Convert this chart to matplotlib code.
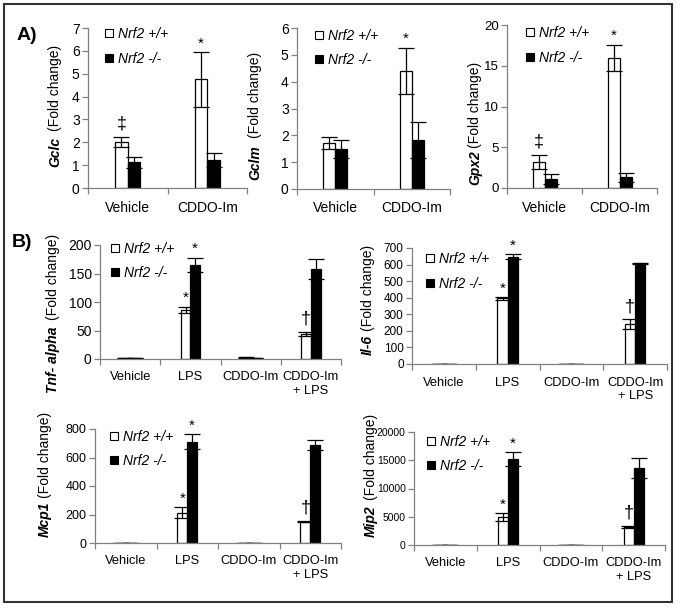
import numpy as np
import matplotlib
matplotlib.use('Agg')
import matplotlib.pyplot as plt
from matplotlib.lines import Line2D
from matplotlib.patches import Rectangle

plt.rcParams['font.family'] = ['Liberation Sans', 'DejaVu Sans']
plt.rcParams['font.size'] = 10

W, H = 680, 612

# categories
groups_a = ['Vehicle', 'CDDO-Im']
groups_b = ['Vehicle', 'LPS', 'CDDO-Im', 'CDDO-Im\n+ LPS']

# panel A values (fold change, mean and error)
gclc_wt = [2.03, 4.75]
gclc_wt_err = [0.22, 1.2]
gclc_ko = [1.12, 1.23]
gclc_ko_err = [0.23, 0.32]

gclm_wt = [1.72, 4.41]
gclm_wt_err = [0.22, 0.86]
gclm_ko = [1.49, 1.83]
gclm_ko_err = [0.33, 0.66]

gpx2_wt = [3.2, 16.0]
gpx2_wt_err = [0.9, 1.6]
gpx2_ko = [1.1, 1.33]
gpx2_ko_err = [0.6, 0.55]

# panel B values
tnf_wt = [2, 86, 3, 44]
tnf_wt_err = [0.5, 6, 0.5, 4]
tnf_ko = [2, 165, 2, 158]
tnf_ko_err = [0.5, 13, 0.5, 17]

il6_wt = [2, 396, 2, 240]
il6_wt_err = [0.5, 10, 0.5, 30]
il6_ko = [2, 648, 2, 608]
il6_ko_err = [0.5, 14, 0.5, 4]

mcp1_wt = [1, 213, 1, 150]
mcp1_wt_err = [0.5, 37, 0.5, 5]
mcp1_ko = [1, 711, 1, 688]
mcp1_ko_err = [0.5, 52, 0.5, 35]

mip2_wt = [30, 5000, 30, 3240]
mip2_wt_err = [5, 720, 5, 160]
mip2_ko = [30, 15170, 30, 13680]
mip2_ko_err = [5, 1230, 5, 1770]

fig = plt.figure(figsize=(W / 100, H / 100), dpi=100)


def px_axes(l, r, t, b):
    return fig.add_axes([l / W, 1 - b / H, (r - l) / W, (b - t) / H])


def panel(ax, cats, wt, wt_err, ko, ko_err, ymax, ystep, marks,
          gene, lab_x, lab_y, gap, leg_x, leg_y, ysize, xsize):
    x = np.arange(len(cats))
    w = 0.16
    ekw = dict(lw=0.9, capthick=0.9, ecolor='black')
    ax.bar(x - w / 2, wt, w, color='white', edgecolor='black', lw=0.9,
           yerr=wt_err, capsize=6, error_kw=ekw)
    ax.bar(x + w / 2, ko, w, color='black', edgecolor='black', lw=0.9,
           yerr=ko_err, capsize=6, error_kw=ekw)

    for i, side, sym in marks:
        if side == 'wt':
            xx, top = x[i] - w / 2, wt[i] + wt_err[i]
        else:
            xx, top = x[i] + w / 2, ko[i] + ko_err[i]
        if sym == '*':
            ax.annotate(sym, (xx, top), xytext=(0, 1), textcoords='offset points',
                        ha='center', va='bottom', fontsize=11)
        else:
            ax.annotate(sym, (xx, top), xytext=(0, 3), textcoords='offset points',
                        ha='center', va='bottom', fontsize=13)

    ax.set_xlim(-0.5, len(cats) - 0.5)
    ax.set_ylim(0, ymax)
    ax.set_yticks(np.arange(0, ymax + ystep / 2, ystep))
    ax.set_xticks(np.arange(len(cats) + 1) - 0.5)
    ax.set_xticklabels([])
    ax.set_xticks(x, minor=True)
    ax.set_xticklabels(cats, minor=True)
    ax.tick_params(which='major', length=4, width=0.9, color='#808080',
                   direction='out', pad=2)
    ax.tick_params(axis='y', labelsize=ysize)
    ax.tick_params(axis='x', which='minor', length=0, pad=9, labelsize=xsize)
    for s in ['top', 'right']:
        ax.spines[s].set_visible(False)
    for s in ['left', 'bottom']:
        ax.spines[s].set_color('#808080')
        ax.spines[s].set_linewidth(0.9)

    g = fig.text(lab_x / W, 1 - lab_y / H, gene, rotation=90, ha='center',
                 va='bottom', fontsize=10, fontweight='bold', fontstyle='italic')
    ax.annotate('(Fold change)', xy=(0.5, 1), xycoords=g, xytext=(0, gap * 0.72),
                textcoords='offset points', rotation=90, ha='center', va='bottom',
                fontsize=10)

    handles = [Line2D([], [], marker='s', ls='none', mfc='white', mec='black', ms=6, mew=0.8),
               Line2D([], [], marker='s', ls='none', mfc='black', mec='black', ms=6, mew=0.8)]
    ax.legend(handles, ['Nrf2 +/+', 'Nrf2 -/-'], loc='center left',
              bbox_to_anchor=((leg_x - 5.5) / W, 1 - leg_y / H),
              bbox_transform=fig.transFigure, frameon=False, borderpad=0,
              borderaxespad=0, handlelength=0.8, handletextpad=0.25,
              labelspacing=0.75, prop=dict(style='italic', size=10))


ax = px_axes(88, 247, 28, 188)
panel(ax, groups_a, gclc_wt, gclc_wt_err, gclc_ko, gclc_ko_err, 7, 1,
      [(0, 'wt', '\u2021'), (1, 'wt', '*')], 'Gclc', 55, 167, 6, 109, 46.5, 10, 10)

ax = px_axes(297, 450, 28, 189)
panel(ax, groups_a, gclm_wt, gclm_wt_err, gclm_ko, gclm_ko_err, 6, 1,
      [(1, 'wt', '*')], 'Gclm', 255, 180, 7, 319, 48, 10, 10)

ax = px_axes(507, 657, 25, 188)
panel(ax, groups_a, gpx2_wt, gpx2_wt_err, gpx2_ko, gpx2_ko_err, 20, 5,
      [(0, 'wt', '\u2021'), (1, 'wt', '*')], 'Gpx2', 475, 185, 2, 530, 45.5, 9.5, 10)

ax = px_axes(100, 341, 245, 359)
panel(ax, groups_b, tnf_wt, tnf_wt_err, tnf_ko, tnf_ko_err, 200, 50,
      [(1, 'wt', '*'), (1, 'ko', '*'), (3, 'wt', '\u2020')],
      'Tnf- alpha', 53, 393, 7, 114.5, 261, 10, 9.3)

ax = px_axes(412, 667, 248, 364)
panel(ax, groups_b, il6_wt, il6_wt_err, il6_ko, il6_ko_err, 700, 100,
      [(1, 'wt', '*'), (1, 'ko', '*'), (3, 'wt', '\u2020')],
      'Il-6', 368, 355, 4, 429.5, 271.5, 8.5, 9.3)

ax = px_axes(95, 341, 429, 543)
panel(ax, groups_b, mcp1_wt, mcp1_wt_err, mcp1_ko, mcp1_ko_err, 800, 200,
      [(1, 'wt', '*'), (1, 'ko', '*'), (3, 'wt', '\u2020')],
      'Mcp1', 45, 537, 4, 113.5, 449, 9, 9.3)

ax = px_axes(414, 665, 432, 545)
panel(ax, groups_b, mip2_wt, mip2_wt_err, mip2_ko, mip2_ko_err, 20000, 5000,
      [(1, 'wt', '*'), (1, 'ko', '*'), (3, 'wt', '\u2020')],
      'Mip2', 371, 537, 5, 431, 454, 7.5, 9.3)

fig.text(27 / W, 1 - 35 / H, 'A)', ha='center', va='center', fontsize=14, fontweight='bold')
fig.text(22 / W, 1 - 243 / H, 'B)', ha='center', va='center', fontsize=14, fontweight='bold')

fig.patches.append(Rectangle((4 / W, 1 - 602 / H), 668 / W, 598 / H, transform=fig.transFigure,
                             fill=False, lw=1.5, edgecolor='#333333'))

fig.savefig('out.png', dpi=100)
